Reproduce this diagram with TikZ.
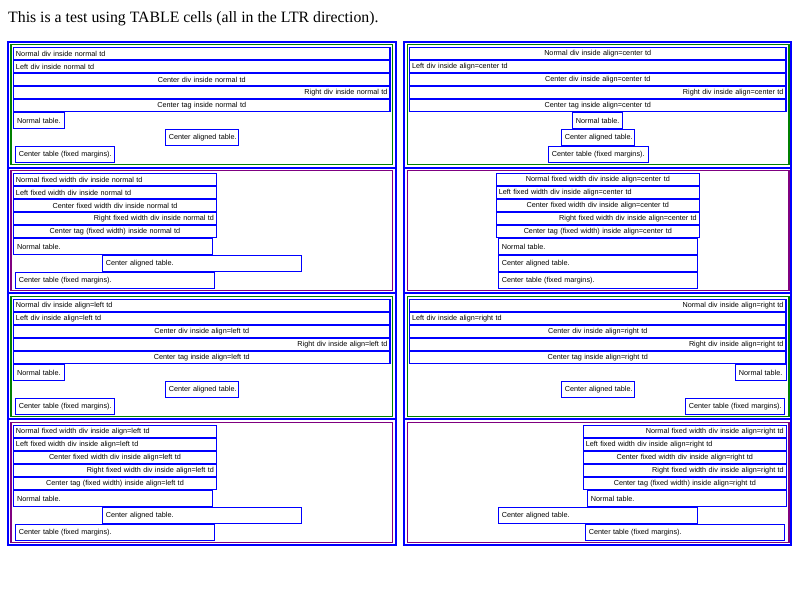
\documentclass[tikz,border=0pt]{standalone}
\usepackage{fontspec}
\setmainfont{Liberation Serif}
\newfontfamily\boxfont{Liberation Sans}
\definecolor{cellgreen}{RGB}{0,128,0}
\definecolor{cellpurple}{RGB}{128,0,128}
\tikzset{
  outerframe/.style={draw=blue, line width=2pt},
  basebox/.style={anchor=north west, outer sep=0pt, inner ysep=0pt},
  greencell/.style={basebox, draw=cellgreen, line width=1.3pt},
  purplecell/.style={basebox, draw=cellpurple, line width=1.3pt},
  divbox/.style={basebox, draw=blue, line width=1.2pt, font=\boxfont\fontsize{7.25pt}{8pt}\selectfont},
  tblbox/.style={divbox},
  titletext/.style={anchor=base west, inner sep=0pt, font=\fontsize{15.8pt}{18pt}\selectfont}
}
% #1 style #2 pad #3 name #4 x1 #5 y1 #6 x2 #7 y2 #8 align #9 text
\newcommand\bxgen[9]{%
  \pgfmathsetmacro\bxt{#6-#4-2*#2}%
  \pgfmathsetmacro\bxh{#7-#5}%
  \node[#1, inner xsep=#2pt, text width=\bxt pt, minimum height=\bxh pt, align=#8] (#3) at (#4,#5) {\mbox{#9}};}
\newcommand\dv[7]{\bxgen{divbox}{2.5}{#1}{#2}{#3}{#4}{#5}{#6}{#7}}
\newcommand\tb[6]{\bxgen{tblbox}{3.6}{#1}{#2}{#3}{#4}{#5}{left}{#6}}
\newcommand\cellbx[6]{%
  \pgfmathsetmacro\bxw{#5-#3}%
  \pgfmathsetmacro\bxh{#6-#4}%
  \node[#1, inner xsep=0pt, minimum width=\bxw pt, minimum height=\bxh pt] (#2) at (#3,#4) {};}
\begin{document}
\begin{tikzpicture}[x=1pt,y=-1pt]
\useasboundingbox (0,0) rectangle (800,600);
\node[titletext] (title) at (8,22) {This is a test using TABLE cells (all in the LTR direction).};
% outer table frames
\draw[outerframe] (8,42) rectangle (395.5,545);
\draw[outerframe] (404.3,42) rectangle (791,545);
\foreach \yy in {167.7,293.4,419.2}{
  \draw[outerframe] (8,\yy) -- (395.5,\yy);
  \draw[outerframe] (404.3,\yy) -- (791,\yy);
}
% ---------------- Row 1 ----------------
\cellbx{greencell}{c1l}{11}{44.8}{392.5}{164.3}
\dv{r1l1}{13.5}{47.5}{390}{59.5}{left}{Normal div inside normal td}
\dv{r1l2}{13.5}{60.5}{390}{72.5}{left}{Left div inside normal td}
\dv{r1l3}{13.5}{73.5}{390}{85.5}{center}{Center div inside normal td}
\dv{r1l4}{13.5}{86.5}{390}{98.5}{right}{Right div inside normal td}
\dv{r1l5}{13.5}{99.5}{390}{111.5}{center}{Center tag inside normal td}
\tb{r1l6}{13.5}{112.5}{64.3}{128.5}{Normal table.}
\tb{r1l7}{165.3}{129.2}{238.3}{145.5}{Center aligned table.}
\tb{r1l8}{15.3}{146.2}{114.7}{162.5}{Center table (fixed margins).}
\cellbx{greencell}{c1r}{407.3}{44.8}{789}{164.3}
\dv{r1r1}{409.5}{47.5}{786}{59.5}{center}{Normal div inside align=center td}
\dv{r1r2}{409.5}{60.5}{786}{72.5}{left}{Left div inside align=center td}
\dv{r1r3}{409.5}{73.5}{786}{85.5}{center}{Center div inside align=center td}
\dv{r1r4}{409.5}{86.5}{786}{98.5}{right}{Right div inside align=center td}
\dv{r1r5}{409.5}{99.5}{786}{111.5}{center}{Center tag inside align=center td}
\tb{r1r6}{572.3}{112.5}{622.7}{128.5}{Normal table.}
\tb{r1r7}{561.3}{129.2}{634.3}{145.5}{Center aligned table.}
\tb{r1r8}{548.3}{146.2}{648.7}{162.5}{Center table (fixed margins).}
% ---------------- Row 2 ----------------
\begin{scope}[yshift=-126pt]
\cellbx{purplecell}{c2l}{11}{44.8}{392.5}{164.3}
\dv{r2l1}{13.5}{47.5}{216.5}{59.5}{left}{Normal fixed width div inside normal td}
\dv{r2l2}{13.5}{60.5}{216.5}{72.5}{left}{Left fixed width div inside normal td}
\dv{r2l3}{13.5}{73.5}{216.5}{85.5}{center}{Center fixed width div inside normal td}
\dv{r2l4}{13.5}{86.5}{216.5}{98.5}{right}{Right fixed width div inside normal td}
\dv{r2l5}{13.5}{99.5}{216.5}{111.5}{center}{Center tag (fixed width) inside normal td}
\tb{r2l6}{13.5}{112.5}{212.3}{128.5}{Normal table.}
\tb{r2l7}{102.3}{129.2}{301.7}{145.5}{Center aligned table.}
\tb{r2l8}{15.3}{146.2}{214.3}{162.5}{Center table (fixed margins).}
\cellbx{purplecell}{c2r}{407.3}{44.8}{789}{164.3}
\dv{r2r1}{496.3}{47.5}{699.3}{59.5}{center}{Normal fixed width div inside align=center td}
\dv{r2r2}{496.3}{60.5}{699.3}{72.5}{left}{Left fixed width div inside align=center td}
\dv{r2r3}{496.3}{73.5}{699.3}{85.5}{center}{Center fixed width div inside align=center td}
\dv{r2r4}{496.3}{86.5}{699.3}{98.5}{right}{Right fixed width div inside align=center td}
\dv{r2r5}{496.3}{99.5}{699.3}{111.5}{center}{Center tag (fixed width) inside align=center td}
\tb{r2r6}{498.3}{112.5}{697.3}{128.5}{Normal table.}
\tb{r2r7}{498.3}{129.2}{697.3}{145.5}{Center aligned table.}
\tb{r2r8}{498.3}{146.2}{697.3}{162.5}{Center table (fixed margins).}
\end{scope}
% ---------------- Row 3 ----------------
\begin{scope}[yshift=-252pt]
\cellbx{greencell}{c3l}{11}{44.8}{392.5}{164.8}
\dv{r3l1}{13.5}{47.5}{390}{59.5}{left}{Normal div inside align=left td}
\dv{r3l2}{13.5}{60.5}{390}{72.5}{left}{Left div inside align=left td}
\dv{r3l3}{13.5}{73.5}{390}{85.5}{center}{Center div inside align=left td}
\dv{r3l4}{13.5}{86.5}{390}{98.5}{right}{Right div inside align=left td}
\dv{r3l5}{13.5}{99.5}{390}{111.5}{center}{Center tag inside align=left td}
\tb{r3l6}{13.5}{112.5}{64.3}{128.5}{Normal table.}
\tb{r3l7}{165.3}{129.2}{238.3}{145.5}{Center aligned table.}
\tb{r3l8}{15.3}{146.2}{114.7}{162.5}{Center table (fixed margins).}
\cellbx{greencell}{c3r}{407.3}{44.8}{789}{164.8}
\dv{r3r1}{409.5}{47.5}{786}{59.5}{right}{Normal div inside align=right td}
\dv{r3r2}{409.5}{60.5}{786}{72.5}{left}{Left div inside align=right td}
\dv{r3r3}{409.5}{73.5}{786}{85.5}{center}{Center div inside align=right td}
\dv{r3r4}{409.5}{86.5}{786}{98.5}{right}{Right div inside align=right td}
\dv{r3r5}{409.5}{99.5}{786}{111.5}{center}{Center tag inside align=right td}
\tb{r3r6}{735.3}{112.5}{786.3}{128.5}{Normal table.}
\tb{r3r7}{561.3}{129.2}{634.7}{145.5}{Center aligned table.}
\tb{r3r8}{685.3}{146.2}{784.7}{162.5}{Center table (fixed margins).}
\end{scope}
% ---------------- Row 4 ----------------
\begin{scope}[yshift=-378pt]
\cellbx{purplecell}{c4l}{11}{44.8}{392.5}{164.3}
\dv{r4l1}{13.5}{47.5}{216.5}{59.5}{left}{Normal fixed width div inside align=left td}
\dv{r4l2}{13.5}{60.5}{216.5}{72.5}{left}{Left fixed width div inside align=left td}
\dv{r4l3}{13.5}{73.5}{216.5}{85.5}{center}{Center fixed width div inside align=left td}
\dv{r4l4}{13.5}{86.5}{216.5}{98.5}{right}{Right fixed width div inside align=left td}
\dv{r4l5}{13.5}{99.5}{216.5}{111.5}{center}{Center tag (fixed width) inside align=left td}
\tb{r4l6}{13.5}{112.5}{212.3}{128.5}{Normal table.}
\tb{r4l7}{102.3}{129.2}{301.7}{145.5}{Center aligned table.}
\tb{r4l8}{15.3}{146.2}{214.3}{162.5}{Center table (fixed margins).}
\cellbx{purplecell}{c4r}{407.3}{44.8}{789}{164.3}
\dv{r4r1}{583.3}{47.5}{786.3}{59.5}{right}{Normal fixed width div inside align=right td}
\dv{r4r2}{583.3}{60.5}{786.3}{72.5}{left}{Left fixed width div inside align=right td}
\dv{r4r3}{583.3}{73.5}{786.3}{85.5}{center}{Center fixed width div inside align=right td}
\dv{r4r4}{583.3}{86.5}{786.3}{98.5}{right}{Right fixed width div inside align=right td}
\dv{r4r5}{583.3}{99.5}{786.3}{111.5}{center}{Center tag (fixed width) inside align=right td}
\tb{r4r6}{587.3}{112.5}{786.3}{128.5}{Normal table.}
\tb{r4r7}{498.3}{129.2}{697.3}{145.5}{Center aligned table.}
\tb{r4r8}{585.3}{146.2}{784.7}{162.5}{Center table (fixed margins).}
\end{scope}
\end{tikzpicture}
\end{document}
